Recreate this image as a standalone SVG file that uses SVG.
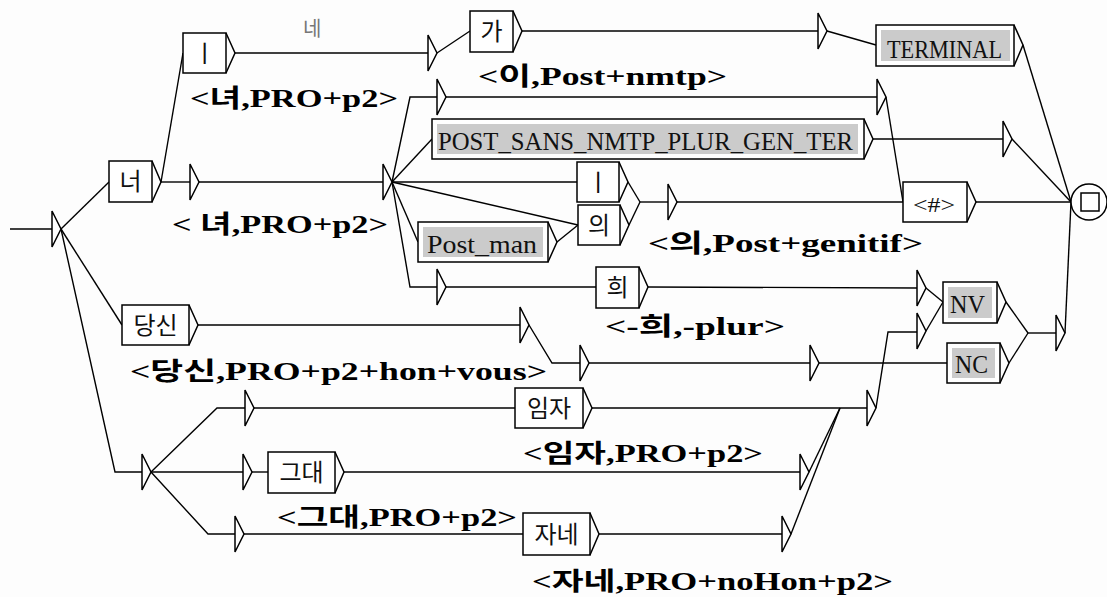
<svg xmlns="http://www.w3.org/2000/svg" width="1107" height="597" viewBox="0 0 1107 597">
<style>
.box{fill:#fff;stroke:#000;stroke-width:1.5}
.gray{fill:#cbcbcb;stroke:none}
.chev{fill:none;stroke:#000;stroke-width:1.5}
.tri{fill:#fff;stroke:#000;stroke-width:1.5}
.ln{fill:none;stroke:#000;stroke-width:1.4}
.kt{font-family:"Noto Sans CJK KR",sans-serif;font-size:24px;text-anchor:middle;fill:#111}
.lt{font-family:"Liberation Serif","Noto Sans CJK KR",serif;font-size:26px;fill:#111}
.out{font-family:"Liberation Serif","Noto Sans CJK KR",serif;font-weight:bold;font-size:25px;fill:#000}
.cmt{font-family:"Noto Sans CJK KR",sans-serif;font-size:20px;fill:#777}
</style>
<rect x="0" y="0" width="1107" height="597" fill="#fdfdfd"/>
<g id="connectors">
<polyline class="ln" points="10,229 52,229"/>
<polyline class="ln" points="61,229 109,182"/>
<polyline class="ln" points="61,229 122,325"/>
<polyline class="ln" points="61,229 115,472 142,472"/>
<polyline class="ln" points="161,182 183,53"/>
<polyline class="ln" points="161,182 190,182"/>
<polyline class="ln" points="235,53 428,53"/>
<polyline class="ln" points="437,53 470,31"/>
<polyline class="ln" points="522,31 818,31"/>
<polyline class="ln" points="827,31 876,45"/>
<polyline class="ln" points="1023,45 1071,202"/>
<polyline class="ln" points="199,182 383,182"/>
<polyline class="ln" points="392,182 410,97 437,97"/>
<polyline class="ln" points="392,182 432,139"/>
<polyline class="ln" points="392,182 577,182"/>
<polyline class="ln" points="392,182 578,225"/>
<polyline class="ln" points="392,182 418,242"/>
<polyline class="ln" points="392,182 410,287 437,287"/>
<polyline class="ln" points="446,97 877,97"/>
<polyline class="ln" points="886,97 903,202"/>
<polyline class="ln" points="873,139 1003,139"/>
<polyline class="ln" points="1012,139 1071,202"/>
<polyline class="ln" points="628,182 640,202"/>
<polyline class="ln" points="629,225 640,202"/>
<polyline class="ln" points="640,202 668,202"/>
<polyline class="ln" points="557,242 578,225"/>
<polyline class="ln" points="677,202 903,202"/>
<polyline class="ln" points="976,202 1071,202"/>
<polyline class="ln" points="446,287 596,287"/>
<polyline class="ln" points="648,287 917,288"/>
<polyline class="ln" points="926,288 943,302"/>
<polyline class="ln" points="926,331 943,302"/>
<polyline class="ln" points="1006,302 1028,333"/>
<polyline class="ln" points="1009,363 1028,333"/>
<polyline class="ln" points="1028,333 1056,333"/>
<polyline class="ln" points="1065,333 1071,202"/>
<polyline class="ln" points="198,325 520,325"/>
<polyline class="ln" points="529,325 552,363 580,363"/>
<polyline class="ln" points="589,363 810,363"/>
<polyline class="ln" points="819,363 947,363"/>
<polyline class="ln" points="151,472 217,408 245,408"/>
<polyline class="ln" points="151,472 243,472"/>
<polyline class="ln" points="151,472 208,534 235,534"/>
<polyline class="ln" points="254,408 515,408"/>
<polyline class="ln" points="592,408 867,408"/>
<polyline class="ln" points="876,408 888,332 917,332"/>
<polyline class="ln" points="252,472 268,472"/>
<polyline class="ln" points="344,472 800,472"/>
<polyline class="ln" points="809,472 840,408"/>
<polyline class="ln" points="244,534 523,534"/>
<polyline class="ln" points="599,534 782,534"/>
<polyline class="ln" points="791,534 840,408"/>
</g>
<g id="comment-ne"><text class="cmt" x="303" y="36">네</text></g>
<g id="init"><polygon class="tri" points="52,211 61,229 52,247"/></g>
<g id="e-a"><polygon class="tri" points="190,164 199,182 190,200"/><text class="out" x="172" y="233" textLength="216" lengthAdjust="spacingAndGlyphs">&lt; 녀,PRO+p2&gt;</text></g>
<g id="e-hub"><polygon class="tri" points="383,164 392,182 383,200"/></g>
<g id="e-top1"><polygon class="tri" points="428,35 437,53 428,71"/></g>
<g id="e-term"><polygon class="tri" points="818,13 827,31 818,49"/></g>
<g id="e-b"><polygon class="tri" points="437,79 446,97 437,115"/></g>
<g id="e-c"><polygon class="tri" points="877,79 886,97 877,115"/></g>
<g id="e-post"><polygon class="tri" points="1003,121 1012,139 1003,157"/></g>
<g id="e-gen"><polygon class="tri" points="668,184 677,202 668,220"/><text class="out" x="648" y="252" textLength="275" lengthAdjust="spacingAndGlyphs">&lt;의,Post+genitif&gt;</text></g>
<g id="e-hui1"><polygon class="tri" points="437,269 446,287 437,305"/></g>
<g id="e-hui2"><polygon class="tri" points="917,270 926,288 917,306"/></g>
<g id="e-nv2"><polygon class="tri" points="917,313 926,331 917,349"/></g>
<g id="e-fin"><polygon class="tri" points="1056,315 1065,333 1056,351"/></g>
<g id="e-ds1"><polygon class="tri" points="520,307 529,325 520,343"/></g>
<g id="e-ds2"><polygon class="tri" points="580,345 589,363 580,381"/></g>
<g id="e-ds3"><polygon class="tri" points="810,345 819,363 810,381"/></g>
<g id="e-low"><polygon class="tri" points="142,454 151,472 142,490"/></g>
<g id="e-imja1"><polygon class="tri" points="245,390 254,408 245,426"/></g>
<g id="e-imja2"><polygon class="tri" points="867,390 876,408 867,426"/></g>
<g id="e-gd1"><polygon class="tri" points="243,454 252,472 243,490"/></g>
<g id="e-gd2"><polygon class="tri" points="800,454 809,472 800,490"/></g>
<g id="e-jn1"><polygon class="tri" points="235,516 244,534 235,552"/></g>
<g id="e-jn2"><polygon class="tri" points="782,516 791,534 782,552"/></g>
<g id="n-i1"><rect class="box" x="183" y="33" width="43" height="40"/><polyline class="chev" points="226,33 235,53 226,73"/><text class="kt" x="204.5" y="62">ㅣ</text><text class="out" x="190" y="107" textLength="208" lengthAdjust="spacingAndGlyphs">&lt;녀,PRO+p2&gt;</text></g>
<g id="n-ga"><rect class="box" x="470" y="11" width="43" height="41"/><polyline class="chev" points="513,11 522,31 513,52"/><text class="kt" x="491.5" y="40">가</text><text class="out" x="478" y="85" textLength="249" lengthAdjust="spacingAndGlyphs">&lt;이,Post+nmtp&gt;</text></g>
<g id="n-terminal"><rect class="box" x="876" y="25" width="138" height="41"/><rect class="gray" x="881" y="30" width="129" height="31"/><polyline class="chev" points="1014,25 1023,45 1014,66"/><text class="lt" x="887" y="58" textLength="115" lengthAdjust="spacingAndGlyphs">TERMINAL</text></g>
<g id="n-neo"><rect class="box" x="109" y="161" width="43" height="41"/><polyline class="chev" points="152,161 161,182 152,202"/><text class="kt" x="130.5" y="190">너</text></g>
<g id="n-post"><rect class="box" x="432" y="119" width="432" height="40"/><rect class="gray" x="437" y="124" width="421" height="30"/><polyline class="chev" points="864,119 873,139 864,159"/><text class="lt" x="438" y="150" textLength="415" lengthAdjust="spacingAndGlyphs">POST_SANS_NMTP_PLUR_GEN_TER</text></g>
<g id="n-i2"><rect class="box" x="577" y="162" width="42" height="40"/><polyline class="chev" points="619,162 628,182 619,202"/><text class="kt" x="598" y="191">ㅣ</text></g>
<g id="n-ui"><rect class="box" x="578" y="205" width="42" height="40"/><polyline class="chev" points="620,205 629,225 620,245"/><text class="kt" x="599" y="234">의</text></g>
<g id="n-postman"><rect class="box" x="418" y="222" width="130" height="40"/><rect class="gray" x="423" y="227" width="120" height="30"/><polyline class="chev" points="548,222 557,242 548,262"/><text class="lt" x="427" y="253" textLength="110" lengthAdjust="spacingAndGlyphs">Post_man</text></g>
<g id="n-sharp"><rect class="box" x="903" y="182" width="64" height="40"/><polyline class="chev" points="967,182 976,202 967,222"/><text class="lt" x="913" y="212" style="font-size:22px" textLength="42" lengthAdjust="spacingAndGlyphs">&lt;#&gt;</text></g>
<g id="n-hui"><rect class="box" x="596" y="267" width="43" height="41"/><polyline class="chev" points="639,267 648,287 639,308"/><text class="kt" x="617.5" y="296">희</text><text class="out" x="605" y="335" textLength="180" lengthAdjust="spacingAndGlyphs">&lt;-희,-plur&gt;</text></g>
<g id="n-dangsin"><rect class="box" x="122" y="305" width="67" height="40"/><polyline class="chev" points="189,305 198,325 189,345"/><text class="kt" x="155.5" y="334">당신</text><text class="out" x="130" y="380" textLength="417" lengthAdjust="spacingAndGlyphs">&lt;당신,PRO+p2+hon+vous&gt;</text></g>
<g id="n-nv"><rect class="box" x="943" y="282" width="54" height="41"/><rect class="gray" x="948" y="287" width="44" height="31"/><polyline class="chev" points="997,282 1006,302 997,323"/><text class="lt" x="950" y="313" textLength="35" lengthAdjust="spacingAndGlyphs">NV</text></g>
<g id="n-nc"><rect class="box" x="947" y="343" width="53" height="40"/><rect class="gray" x="952" y="348" width="43" height="30"/><polyline class="chev" points="1000,343 1009,363 1000,383"/><text class="lt" x="955" y="373" textLength="33" lengthAdjust="spacingAndGlyphs">NC</text></g>
<g id="n-imja"><rect class="box" x="515" y="388" width="68" height="40"/><polyline class="chev" points="583,388 592,408 583,428"/><text class="kt" x="549" y="417">임자</text><text class="out" x="523" y="462" textLength="240" lengthAdjust="spacingAndGlyphs">&lt;임자,PRO+p2&gt;</text></g>
<g id="n-geudae"><rect class="box" x="268" y="452" width="67" height="41"/><polyline class="chev" points="335,452 344,472 335,493"/><text class="kt" x="301.5" y="481">그대</text><text class="out" x="277" y="526" textLength="240" lengthAdjust="spacingAndGlyphs">&lt;그대,PRO+p2&gt;</text></g>
<g id="n-jane"><rect class="box" x="523" y="513" width="67" height="42"/><polyline class="chev" points="590,513 599,534 590,555"/><text class="kt" x="556.5" y="543">자네</text><text class="out" x="532" y="590" textLength="361" lengthAdjust="spacingAndGlyphs">&lt;자네,PRO+noHon+p2&gt;</text></g>
<g id="final"><circle cx="1089" cy="202" r="18" fill="#fff" stroke="#000" stroke-width="1.5"/><rect x="1081" y="193" width="18" height="18" fill="none" stroke="#000" stroke-width="1.5"/></g>
</svg>
